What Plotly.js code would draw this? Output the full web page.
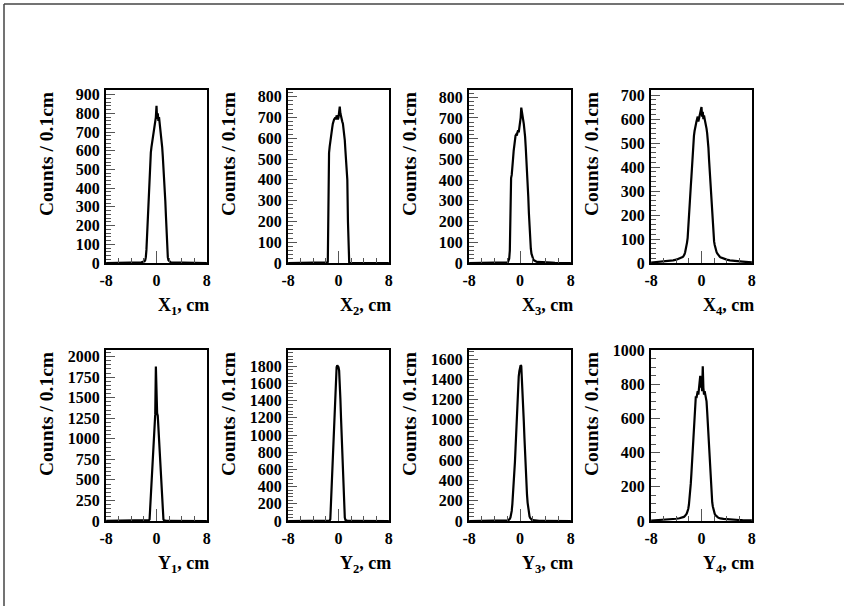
<!DOCTYPE html>
<html>
<head>
<meta charset="utf-8">
<script src="https://cdn.plot.ly/plotly-3.0.1.min.js"></script>
<style>html,body{margin:0;padding:0;background:#fff;}#chart{width:844px;height:606px;}</style>
</head>
<body>
<div id="chart"></div>
<script>
// Bin centres (cm): coarse in the tails, 0.1 cm in the core
const xGrid = [-8,-7.5,-7,-6.5,-6,-5.5,-5,-4.5,-4,-3.5,
  -3,-2.9,-2.8,-2.7,-2.6,-2.5,-2.4,-2.3,-2.2,-2.1,
  -2,-1.9,-1.8,-1.7,-1.6,-1.5,-1.4,-1.3,-1.2,-1.1,
  -1,-0.9,-0.8,-0.7,-0.6,-0.5,-0.4,-0.3,-0.2,-0.1,
  0,
  0.1,0.2,0.3,0.4,0.5,0.6,0.7,0.8,0.9,1,
  1.1,1.2,1.3,1.4,1.5,1.6,1.7,1.8,1.9,2,
  2.1,2.2,2.3,2.4,2.5,2.6,2.7,2.8,2.9,3,
  3.5,4,4.5,5,5.5,6,6.5,7,7.5,8];

const countsX1 = [0,0,0,0,1,1,1,1,2,2,
  2,2,3,3,3,4,4,5,5,6, 7,9,14,30,70,150,240,320,400,470,
  540,590,620,640,680,700,720,740,760,780, 840,
  770,800,760,780,750,730,715,670,620,570, 520,460,400,330,250,160,70,30,15,9,
  6,5,4,4,3,3,3,2,2,2,
  2,2,1,1,1,1,0,0,0,0];
const countsX2 = [0,0,0,0,0,0,0,0,0,0,
  0,0,0,0,0,0,1,1,1,1, 1,2,3,5,500,530,560,590,610,630,
  650,670,688,690,695,700,690,710,700,690, 700,
  720,752,720,700,690,680,670,650,620,590, 540,490,450,400,200,10,2,1,1,1,
  1,0,0,0,0,0,0,0,0,0,
  0,0,0,0,0,0,0,0,0,0];
const countsX3 = [0,0,0,0,0,0,0,1,1,1,
  1,1,1,1,1,2,2,2,2,3, 3,5,10,20,60,330,410,425,450,500,
  540,580,610,615,620,615,630,640,630,650, 680,
  700,750,720,700,690,670,650,610,560,510, 450,390,320,240,170,110,70,45,30,22,
  17,13,10,8,7,6,5,5,4,4,
  3,3,2,2,1,1,1,1,0,0];
const countsX4 = [2,3,4,5,6,7,9,11,14,18,
  25,27,30,36,45,55,70,85,105,140, 180,230,280,320,360,410,450,500,530,550,
  570,580,590,600,610,590,600,610,620,630, 650,
  610,630,600,615,600,590,575,560,540,520, 480,430,380,330,280,240,190,150,115,90,
  75,62,53,45,40,35,32,29,26,24,
  18,14,11,9,8,7,6,5,4,3];
const countsY1 = [1,1,1,1,1,2,2,2,2,3,
  3,3,3,3,4,4,4,5,5,5, 5,6,6,6,7,7,8,8,10,20,
  150,300,440,580,720,860,1000,1150,1300,1880, 1330,
  1310,1280,1150,1000,860,700,550,400,250,100, 20,8,5,4,4,3,3,3,3,3,
  3,3,2,2,2,2,2,2,2,2,
  2,1,1,1,1,1,1,1,0,0];
const countsY2 = [0,0,0,0,0,1,1,1,1,1,
  1,1,1,1,1,1,2,2,2,2, 2,2,3,3,3,4,5,20,200,400,
  600,800,1000,1200,1400,1600,1700,1790,1810,1800, 1790,
  1750,1620,1420,1200,980,760,540,330,150,40, 12,6,4,3,3,3,2,2,2,2,
  2,2,2,1,1,1,1,1,1,1,
  1,1,1,0,0,0,0,0,0,0];
const countsY3 = [0,0,0,0,1,1,1,1,2,2,
  2,2,2,3,3,3,4,4,4,5, 5,7,10,15,22,35,60,100,170,250,
  340,450,580,720,880,1050,1220,1350,1430,1480, 1520,
  1540,1530,1420,1280,1150,980,820,650,480,360, 260,180,120,75,45,30,20,14,10,8,
  7,6,5,5,4,4,3,3,3,2,
  2,2,1,1,1,1,0,0,0,0];
const countsY4 = [3,4,4,5,6,7,8,10,13,16,
  20,22,24,27,30,35,40,48,58,72, 95,130,170,220,280,340,410,480,560,640,
  710,730,720,740,760,740,780,800,850,780, 820,
  760,905,780,740,760,740,720,700,640,570, 490,410,330,260,200,150,110,85,65,52,
  42,35,30,26,23,21,19,17,16,15,
  12,10,9,8,7,6,5,5,4,4];

const panelSeries = [countsX1, countsX2, countsX3, countsX4, countsY1, countsY2, countsY3, countsY4];
const panelTitles = ["X<sub>1</sub>, cm","X<sub>2</sub>, cm","X<sub>3</sub>, cm","X<sub>4</sub>, cm",
                     "Y<sub>1</sub>, cm","Y<sub>2</sub>, cm","Y<sub>3</sub>, cm","Y<sub>4</sub>, cm"];
const yMax = [925, 832, 835, 721, 2080, 1990, 1690, 1001];
const yMajor = [100, 100, 100, 100, 250, 200, 200, 200];
const yMinor = [20, 20, 20, 20, 50, 40, 40, 50];
const xTickVals = [-8, 0, 8];
const xTickText = ["-8", "0", "8"];
const yAxisTitle = "Counts / 0.1cm";

// layout geometry (pixels)
const W = 844, H = 606;
const colL = [106, 288, 469, 651], colR = [207, 389, 571, 752];
const rowT = [90, 350], rowB = [263, 521];

const fam = "Liberation Serif, Times New Roman, serif";
const font = {family: fam, color: "#000", size: 16, weight: 700};
const data = [], layout = {
  width: W, height: H, margin: {l:0, r:0, t:0, b:0},
  paper_bgcolor: "#fff", plot_bgcolor: "#fff", showlegend: false,
  font: font, annotations: [], shapes: []
};

panelSeries.forEach((ys, i) => {
  const c = i % 4, r = Math.floor(i / 4);
  const n = i + 1;
  const sfx = n === 1 ? "" : String(n);
  data.push({x: xGrid, y: ys, type: "scatter", mode: "lines",
    line: {color: "#000", width: 2.2}, xaxis: "x" + sfx, yaxis: "y" + sfx,
    hoverinfo: "skip"});
  layout["xaxis" + sfx] = {
    domain: [colL[c] / W, colR[c] / W], anchor: "y" + sfx,
    range: [-8.02, 8.02], showgrid: false, zeroline: false,
    showline: true, linecolor: "#000", linewidth: 2, mirror: true,
    ticks: "inside", ticklen: 12, tickwidth: 1, tickcolor: "#555",
    tickmode: "array", tickvals: xTickVals, ticktext: xTickText,
    minor: {ticks: "inside", ticklen: 5, tickwidth: 1, tickcolor: "#555", dtick: 2, tick0: 0, showgrid: false},
    tickfont: font, ticklabelstandoff: 2, fixedrange: true
  };
  layout["yaxis" + sfx] = {
    domain: [1 - rowB[r] / H, 1 - rowT[r] / H], anchor: "x" + sfx,
    range: [0, yMax[i]], showgrid: false, zeroline: false,
    showline: true, linecolor: "#000", linewidth: 2, mirror: true,
    ticks: "inside", ticklen: 9, tickwidth: 1, tickcolor: "#555",
    dtick: yMajor[i], tick0: 0,
    minor: {ticks: "inside", ticklen: 5, tickwidth: 1, tickcolor: "#555", dtick: yMinor[i], tick0: 0, showgrid: false},
    tickfont: font, ticklabelstandoff: 1, fixedrange: true
  };
  // y-axis title, rotated, aligned to the top of the axis
  layout.annotations.push({
    xref: "paper", yref: "paper", x: (colL[c] - 60) / W, y: 1 - rowT[r] / H,
    xanchor: "center", yanchor: "top", textangle: -90, showarrow: false,
    text: yAxisTitle, font: {family: fam, size: 19.5, color: "#000", weight: 700}
  });
  // x-axis title, right aligned
  layout.annotations.push({
    xref: "paper", yref: "paper", x: (colR[c] + 4) / W, y: 1 - (rowB[r] + 43) / H,
    xanchor: "right", yanchor: "middle", showarrow: false,
    text: panelTitles[i], font: {family: fam, size: 18, color: "#000", weight: 700}
  });
});

// page frame (top and left edges)
layout.shapes.push({type: "line", xref: "paper", yref: "paper", x0: 4 / W, x1: 1, y0: 1 - 4 / H, y1: 1 - 4 / H,
  line: {color: "#444", width: 1.5}});
layout.shapes.push({type: "line", xref: "paper", yref: "paper", x0: 4 / W, x1: 4 / W, y0: 0, y1: 1 - 4 / H,
  line: {color: "#444", width: 1.5}});

Plotly.newPlot("chart", data, layout, {staticPlot: true, displayModeBar: false});
</script>
</body>
</html>
